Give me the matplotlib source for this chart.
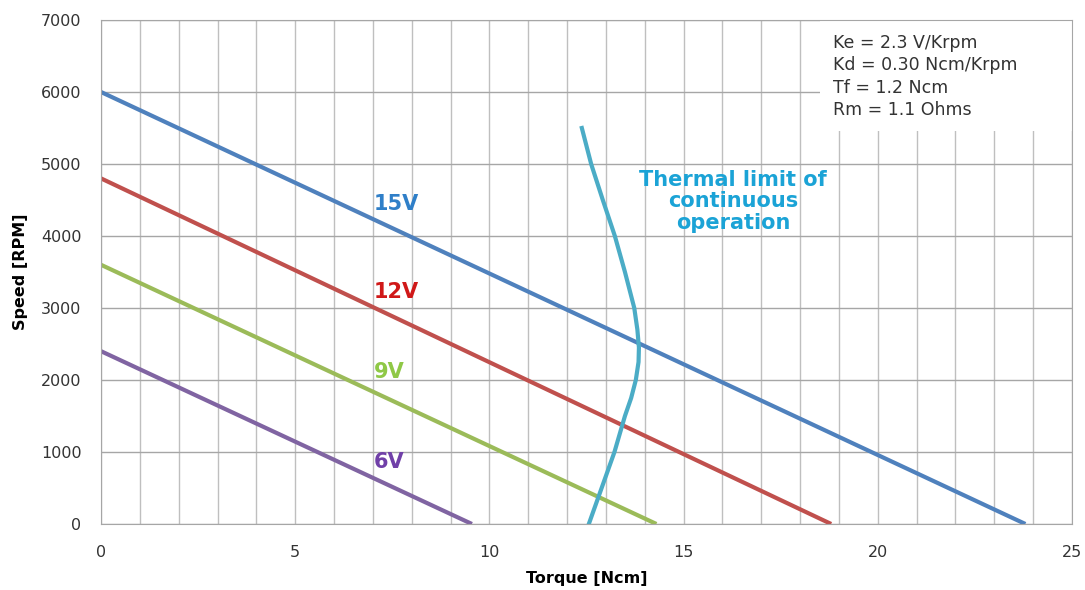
import numpy as np
import matplotlib.pyplot as plt
from matplotlib.patches import Rectangle

# Speed / torque lines (end points)
volts = ["15V", "12V", "9V", "6V"]
speed0 = [6000, 4800, 3600, 2400]          # RPM at zero torque
stall = [23.8, 18.8, 14.3, 9.55]           # Ncm at zero speed
colors = ["#4F81BD", "#C0504D", "#9BBB59", "#8064A2"]
lbl_colors = ["#2F7FC8", "#D01818", "#8FC846", "#7040A8"]
lbl_pos = [(7.03, 4440), (7.03, 3220), (7.03, 2110), (7.03, 860)]

# Thermal limit curve
th_torque = [12.38, 12.62, 12.92, 13.23, 13.49, 13.73, 13.81, 13.85, 13.84,
             13.77, 13.65, 13.49, 13.22, 12.89, 12.56]
th_speed = [5500, 5000, 4500, 4000, 3500, 3000, 2700, 2450, 2250,
            2000, 1750, 1500, 1000, 500, 0]

params = "Ke = 2.3 V/Krpm\nKd = 0.30 Ncm/Krpm\nTf = 1.2 Ncm\nRm = 1.1 Ohms"

fig = plt.figure(figsize=(10.85, 5.9), dpi=100)
ax = fig.add_axes([0.0931, 0.1119, 0.8949, 0.8542])

for v, s, t, c, lc, p in zip(volts, speed0, stall, colors, lbl_colors, lbl_pos):
    ax.plot([0, t], [s, 0], color=c, lw=3, solid_capstyle="butt", zorder=3)
    ax.text(p[0], p[1], v, color=lc, fontsize=15, fontweight="bold", va="center", zorder=4)

ax.plot(th_torque, th_speed, color="#4BACC6", lw=3, zorder=3)
ax.text(16.27, 4480, "Thermal limit of\ncontinuous\noperation", color="#1BA3D6",
        fontsize=15, fontweight="bold", ha="center", va="center", linespacing=1.08, zorder=4)

# white parameter box hiding the grid
ax.add_patch(Rectangle((0.741, 0.78), 0.26, 0.22, transform=ax.transAxes,
                       fc="white", ec="none", zorder=5, clip_on=False))
ax.text(0.754, 0.972, params, transform=ax.transAxes, fontsize=12.5, color="#333333",
        va="top", ha="left", linespacing=1.3, zorder=6)

ax.set_xlim(0, 25)
ax.set_ylim(0, 7000)
ax.set_xticks(np.arange(0, 26, 5))
ax.set_xticks(np.arange(0, 26, 1), minor=True)
ax.set_yticks(np.arange(0, 7001, 1000))
ax.grid(True, which="both", axis="x", color="#BFBFBF", lw=1)
ax.grid(True, which="major", axis="y", color="#A6A6A6", lw=1)
ax.set_axisbelow(True)
ax.tick_params(which="both", length=0, labelsize=11.5, colors="#333333")
ax.tick_params(axis="y", pad=14)
ax.tick_params(axis="x", pad=15)
for sp in ax.spines.values():
    sp.set_color("#A6A6A6")
    sp.set_zorder(7)

ax.set_xlabel("Torque [Ncm]", fontsize=11.5, fontweight="bold", labelpad=8)
ax.set_ylabel("Speed [RPM]", fontsize=11.5, fontweight="bold", labelpad=9)

fig.savefig("out.png", dpi=100)
